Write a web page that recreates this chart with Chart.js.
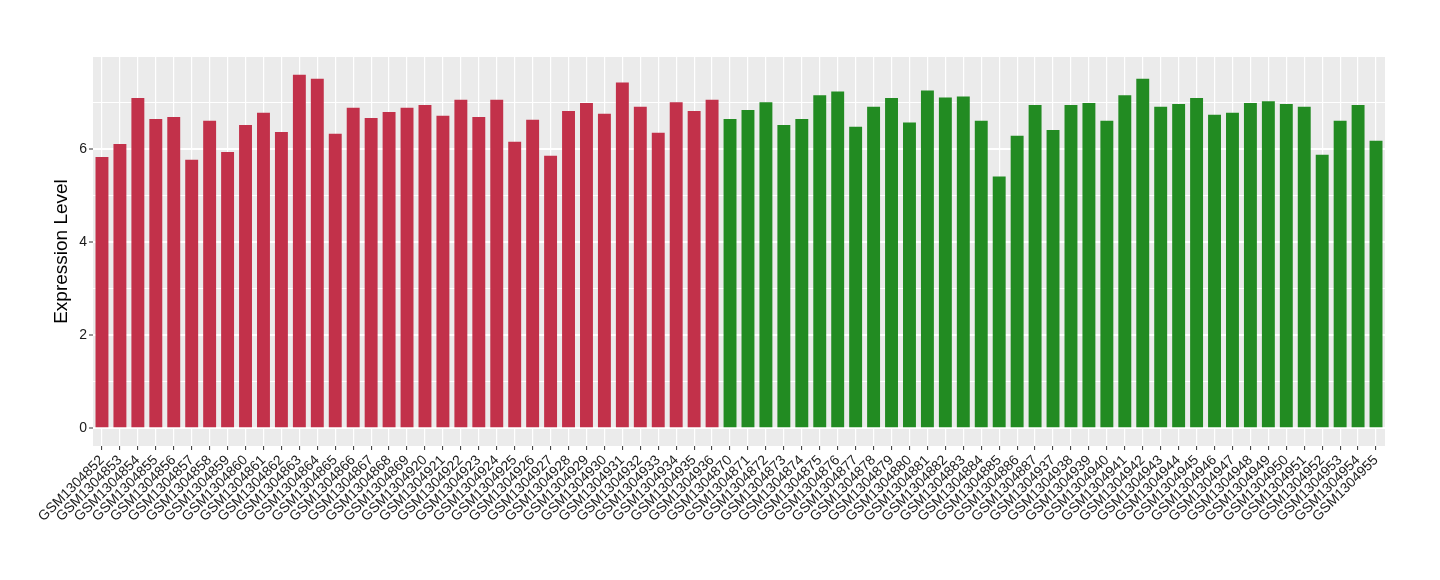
<!DOCTYPE html>
<html>
<head>
<meta charset="utf-8">
<script src="https://cdn.jsdelivr.net/npm/chart.js@4/dist/chart.umd.min.js"></script>
<style>
  html, body { margin: 0; padding: 0; background: #fff; }
  #wrap { width: 1440px; height: 580px; position: relative; }
</style>
</head>
<body>
<div id="wrap"><canvas id="chart"></canvas></div>
<script>
// sample ids in plot order
const sampleIds = [
  "GSM1304852", "GSM1304853", "GSM1304854", "GSM1304855", "GSM1304856", "GSM1304857",
  "GSM1304858", "GSM1304859", "GSM1304860", "GSM1304861", "GSM1304862", "GSM1304863",
  "GSM1304864", "GSM1304865", "GSM1304866", "GSM1304867", "GSM1304868", "GSM1304869",
  "GSM1304920", "GSM1304921", "GSM1304922", "GSM1304923", "GSM1304924", "GSM1304925",
  "GSM1304926", "GSM1304927", "GSM1304928", "GSM1304929", "GSM1304930", "GSM1304931",
  "GSM1304932", "GSM1304933", "GSM1304934", "GSM1304935", "GSM1304936",
  "GSM1304870", "GSM1304871", "GSM1304872", "GSM1304873", "GSM1304874", "GSM1304875",
  "GSM1304876", "GSM1304877", "GSM1304878", "GSM1304879", "GSM1304880", "GSM1304881",
  "GSM1304882", "GSM1304883", "GSM1304884", "GSM1304885", "GSM1304886", "GSM1304887",
  "GSM1304937", "GSM1304938", "GSM1304939", "GSM1304940", "GSM1304941", "GSM1304942",
  "GSM1304943", "GSM1304944", "GSM1304945", "GSM1304946", "GSM1304947", "GSM1304948",
  "GSM1304949", "GSM1304950", "GSM1304951", "GSM1304952", "GSM1304953", "GSM1304954",
  "GSM1304955"
];

const expression = [
  5.83, 6.11, 7.10, 6.65, 6.69, 5.77, 6.61, 5.94, 6.52, 6.78, 6.37, 7.60,
  7.51, 6.33, 6.89, 6.67, 6.80, 6.89, 6.95, 6.72, 7.06, 6.69, 7.06, 6.16,
  6.63, 5.86, 6.82, 6.99, 6.76, 7.43, 6.91, 6.35, 7.01, 6.82, 7.06,
  6.65, 6.84, 7.01, 6.52, 6.65, 7.16, 7.24, 6.48, 6.91, 7.10, 6.57, 7.26,
  7.11, 7.13, 6.61, 5.41, 6.29, 6.95, 6.41, 6.95, 6.99, 6.61, 7.16, 7.51,
  6.91, 6.97, 7.10, 6.74, 6.78, 6.99, 7.03, 6.97, 6.91, 5.88, 6.61, 6.95,
  6.18
];

// 35 samples in group A, 37 in group B
const groupSizes = [35, 37];
const groupColors = ["#C2314A", "#228B22"];

const yTicks = [0, 2, 4, 6];

const barColors = [];
groupSizes.forEach((n, g) => {
  for (let i = 0; i < n; i++) barColors.push(groupColors[g]);
});

Chart.defaults.font.family = "'Liberation Sans', Arial, sans-serif";
Chart.defaults.animation = false;

// grey panel behind the grid, like ggplot
const panelBg = {
  id: "panelBg",
  beforeDraw(chart) {
    const { ctx, chartArea: a } = chart;
    ctx.save();
    ctx.fillStyle = "#EBEBEB";
    ctx.fillRect(a.left, a.top, a.right - a.left, a.bottom - a.top);
    ctx.restore();
  }
};

new Chart(document.getElementById("chart"), {
  type: "bar",
  data: {
    labels: sampleIds,
    datasets: [{
      data: expression,
      backgroundColor: barColors,
      barPercentage: 0.72,
      categoryPercentage: 1.0
    }]
  },
  options: {
    responsive: true,
    maintainAspectRatio: false,
    layout: { padding: { top: 57, right: 55, left: 50, bottom: 0 } },
    plugins: { legend: { display: false }, tooltip: { enabled: false } },
    scales: {
      x: {
        offset: true,
        grid: {
          offset: false,
          color: "#FFFFFF",
          lineWidth: 1.2,
          tickColor: "#333333",
          tickLength: 4,
          tickWidth: 1
        },
        border: { display: false },
        ticks: {
          autoSkip: false,
          minRotation: 45,
          maxRotation: 45,
          color: "#1A1A1A",
          font: { size: 14 },
          padding: 2
        },
        afterFit(scale) { scale.height = 134; }
      },
      y: {
        min: -0.38,
        max: 7.98,
        grid: {
          color: "#FFFFFF",
          lineWidth: c => (yTicks.includes(c.tick.value) ? 2 : 1),
          tickColor: c => (yTicks.includes(c.tick.value) ? "#333333" : "rgba(0,0,0,0)"),
          tickLength: 4,
          tickWidth: 1
        },
        border: { display: false },
        ticks: {
          stepSize: 1,
          includeBounds: false,
          color: "#1A1A1A",
          font: { size: 14 },
          padding: 2,
          callback: v => (yTicks.includes(v) ? String(v) : "")
        },
        title: {
          display: true,
          text: "Expression Level",
          color: "#000000",
          font: { size: 19 },
          padding: 0
        },
        afterFit(scale) { scale.width = 43; }
      }
    }
  },
  plugins: [panelBg]
});
</script>
</body>
</html>
